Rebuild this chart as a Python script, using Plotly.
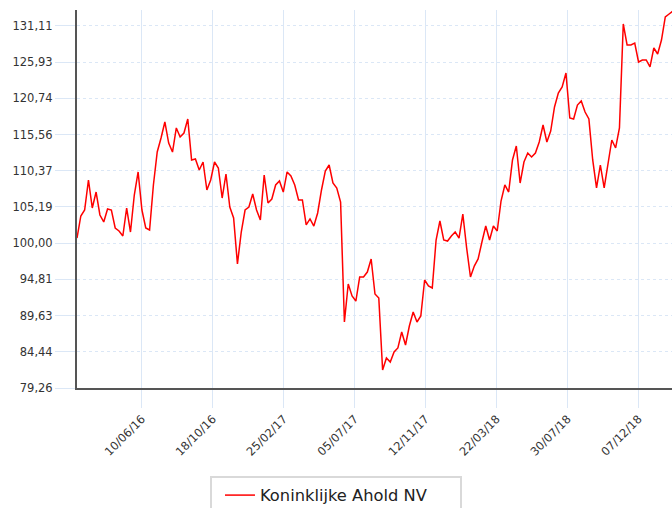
import pandas as pd
import plotly.graph_objects as go

series_name = "Koninklijke Ahold NV"
start_date = "2016-02-12"
values = [
    100.74, 103.90, 104.75, 109.05, 105.04, 107.33, 104.04, 103.04, 104.90, 104.75,
    102.18, 101.75, 101.03, 105.04, 101.60, 106.90, 110.20, 104.75, 102.18, 101.89,
    108.34, 113.06, 115.07, 117.36, 114.35, 113.06, 116.50, 115.21, 115.78, 117.79,
    111.92, 112.06, 110.48, 111.63, 107.62, 109.05, 111.63, 110.77, 106.47, 109.91,
    105.18, 103.61, 97.02, 101.60, 104.75, 105.18, 107.05, 104.75, 103.32, 109.77,
    105.76, 106.33, 108.34, 108.91, 107.33, 110.20, 109.62, 108.34, 106.19, 106.19,
    102.61, 103.47, 102.46, 104.33, 107.62, 110.34, 111.20, 108.62, 107.91, 105.90,
    88.71, 94.16, 92.44, 91.72, 95.16, 95.16, 95.87, 97.74, 92.72, 92.15,
    81.84, 83.56, 82.98, 84.42, 84.99, 87.28, 85.42, 88.14, 90.15, 88.71,
    89.57, 94.73, 93.87, 93.58, 100.46, 103.18, 100.46, 100.31, 101.03, 101.60,
    100.74, 104.18, 99.31, 95.16, 96.73, 97.74, 100.17, 102.46, 100.46, 102.46,
    101.75, 106.04, 108.34, 107.33, 111.92, 113.92, 108.62, 111.63, 112.92, 112.35,
    112.92, 114.49, 116.93, 114.49, 116.07, 119.51, 121.51, 122.37, 124.38, 117.93,
    117.79, 119.79, 120.37, 118.79, 117.79, 111.92, 107.91, 111.20, 107.91, 111.20,
    114.78, 113.64, 116.50, 131.40, 128.39, 128.39, 128.67, 125.95, 126.24, 126.24,
    125.24, 127.96, 127.10, 129.10, 132.40, 132.83, 133.26,
]
dates = pd.date_range(start_date, periods=len(values), freq="7D")

x_tick_dates = ["2016-06-10", "2016-10-18", "2017-02-25", "2017-07-05",
                "2017-11-12", "2018-03-22", "2018-07-30", "2018-12-07"]
x_tick_labels = ["10/06/16", "18/10/16", "25/02/17", "05/07/17",
                 "12/11/17", "22/03/18", "30/07/18", "07/12/18"]
y_ticks = [79.26, 84.44, 89.63, 94.81, 100.00, 105.19, 110.37, 115.56, 120.74, 125.93, 131.11]
y_range = [79.26, 133.40]
x_range = ["2016-02-12", "2019-02-06 07:00"]

grid_col = "#dbe7f6"
font_family = "DejaVu Sans"

fig = go.Figure()
fig.add_trace(go.Scatter(
    x=dates, y=values, mode="lines", name=series_name,
    line=dict(color="#ff0000", width=1.5), showlegend=True,
))

fig.update_layout(
    width=672, height=508,
    margin=dict(l=77, r=0, t=10, b=120, autoexpand=False),
    paper_bgcolor="white", plot_bgcolor="white",
    separators=",.",
    font=dict(family=font_family, size=11.5, color="#333333"),
    showlegend=True,
    legend=dict(
        orientation="h",
        x=0.2235, y=-0.2328, xanchor="left", yanchor="top",
        bordercolor="#d9d9d9", borderwidth=2,
        font=dict(family=font_family, size=16.3, color="#222222"),
        bgcolor="white",
        indentation=8,
        entrywidth=195, entrywidthmode="pixels",
    ),
)
fig.update_xaxes(
    type="date", range=x_range, automargin=False,
    tickmode="array", tickvals=x_tick_dates, ticktext=x_tick_labels,
    tickangle=-45,
    showgrid=True, gridcolor=grid_col, gridwidth=1,
    ticks="outside", ticklen=18, tickcolor=grid_col, tickwidth=1,
    showline=True, linecolor="#555555", linewidth=1.5,
    zeroline=False,
)
fig.update_yaxes(
    range=y_range, automargin=False,
    tickmode="array", tickvals=y_ticks, tickformat=".2f",
    showgrid=True, gridcolor=grid_col, gridwidth=1, griddash="dot",
    ticks="outside", ticklen=20, tickcolor=grid_col, tickwidth=1,
    showline=True, linecolor="#555555", linewidth=2,
    zeroline=False,
)

fig.write_html(
    "out.html",
    config={"displayModeBar": False},
    post_script="document.body.style.margin='0';document.body.style.overflow='hidden';",
)
